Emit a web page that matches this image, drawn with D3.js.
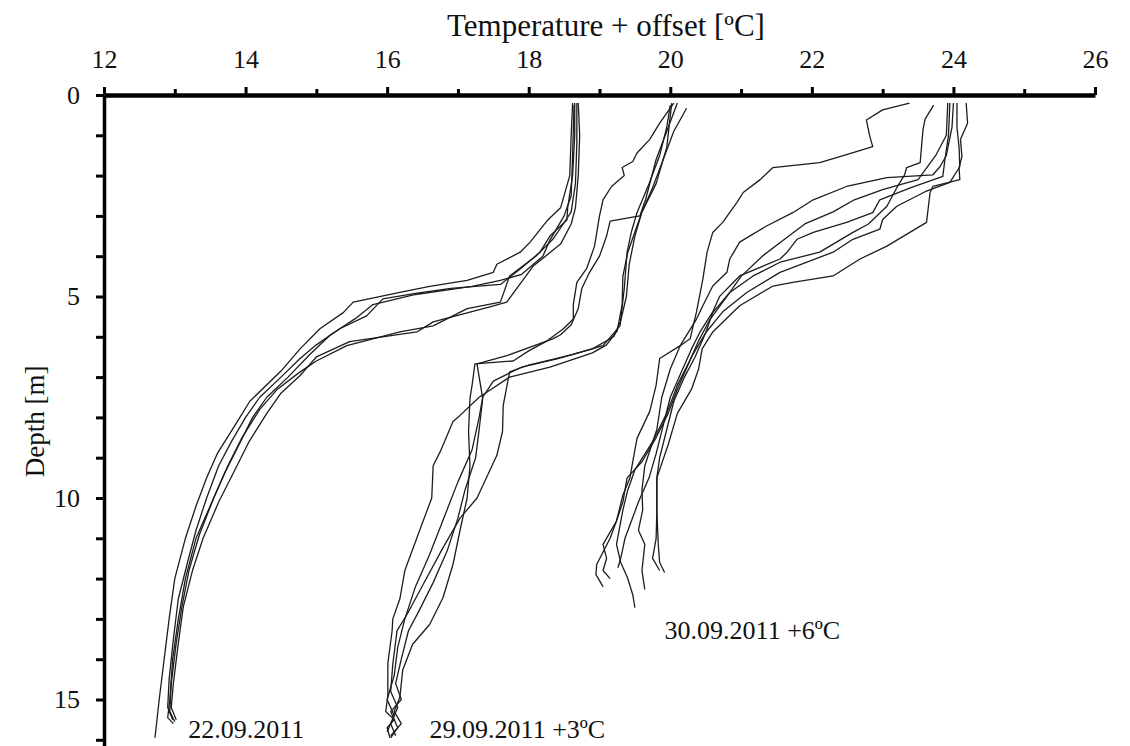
<!DOCTYPE html>
<html lang="en">
<head>
<meta charset="utf-8">
<title>Temperature profiles</title>
<script src="https://cdn.jsdelivr.net/npm/d3@7"></script>
<style>
  body { margin: 0; background: white; }
  svg text { font-family: "Liberation Serif", "Times New Roman", serif; fill: #111; }
  .axis path, .axis line { stroke: #000; }
  .profile { fill: none; stroke: #1c1c1c; stroke-width: 1.3; stroke-linejoin: round; }
</style>
</head>
<body>
<script>
// axis ticks
var tempTicks = d3.range(12, 27, 1);
var depthTicks = d3.range(0, 17, 1);
var dateLabels = ["22.09.2011", "29.09.2011 +3ºC", "30.09.2011 +6ºC"];

// profiles: [temperature + offset, depth]
var profiles22 = [
  [[18.62,0.2],[18.6,1.0],[18.58,2.0],[18.45,2.8],[18.27,3.1],[18.02,3.65],[17.88,3.9],[17.55,4.2],[17.5,4.4],[17.13,4.6],[16.6,4.75],[16.18,4.9],[15.52,5.14],[15.38,5.4],[15.05,5.8],[14.77,6.3],[14.5,6.85],[14.06,7.6],[13.85,8.2],[13.6,8.9],[13.45,9.5],[13.3,10.2],[13.15,11.0],[13.0,12.0],[12.92,13.0],[12.85,14.0],[12.78,15.0],[12.72,15.95]],
  [[18.65,0.2],[18.65,1.0],[18.62,2.0],[18.55,2.8],[18.54,3.1],[18.3,3.5],[18.16,3.9],[17.88,4.32],[17.6,4.7],[16.9,4.8],[16.4,4.92],[15.94,5.06],[15.71,5.48],[15.33,5.8],[15.0,6.2],[14.77,6.54],[14.5,7.0],[14.2,7.5],[14.0,8.0],[13.8,8.6],[13.62,9.2],[13.45,10.0],[13.3,10.8],[13.18,11.6],[13.05,12.5],[12.98,13.5],[12.92,14.5],[12.9,15.2],[12.97,15.5]],
  [[18.68,0.2],[18.68,1.2],[18.66,2.2],[18.6,2.9],[18.45,3.3],[18.34,3.58],[18.1,4.0],[17.73,4.49],[17.6,5.14],[17.13,5.3],[16.65,5.73],[16.18,5.88],[15.43,6.22],[15.0,6.6],[14.77,6.87],[14.45,7.3],[14.2,7.8],[13.95,8.5],[13.75,9.2],[13.55,10.0],[13.35,10.9],[13.2,11.8],[13.1,12.7],[13.02,13.6],[12.95,14.6],[12.93,15.3],[13.0,15.55]],
  [[18.7,0.2],[18.72,1.0],[18.7,2.0],[18.66,2.8],[18.6,3.2],[18.45,3.7],[18.06,4.25],[17.69,5.14],[17.45,5.26],[16.65,5.63],[16.42,5.88],[15.47,6.12],[15.0,6.5],[14.77,6.96],[14.5,7.4],[14.3,7.9],[14.05,8.6],[13.85,9.3],[13.62,10.1],[13.4,11.0],[13.25,11.8],[13.12,12.7],[13.05,13.6],[12.98,14.6],[12.95,15.2],[13.02,15.5]],
  [[18.64,0.25],[18.62,1.5],[18.6,2.5],[18.5,3.0],[18.3,3.6],[18.2,4.0],[17.9,4.45],[17.6,4.6],[17.2,4.75],[16.4,4.95],[15.8,5.2],[15.55,5.55],[15.2,5.95],[14.9,6.45],[14.6,7.0],[14.3,7.5],[14.1,8.0],[13.9,8.7],[13.7,9.4],[13.5,10.2],[13.3,11.0],[13.15,12.0],[13.05,13.0],[12.97,14.0],[12.93,15.0],[12.9,15.45],[12.98,15.6]]
];

var profiles29 = [
  [[20.02,0.2],[19.95,1.3],[19.8,2.2],[19.6,2.9],[19.5,3.4],[19.4,3.9],[19.33,4.5],[19.32,5.2],[19.25,5.85],[19.1,6.2],[18.9,6.4],[18.3,6.75],[17.73,7.0],[17.3,7.5],[17.03,7.95],[16.93,8.1],[16.75,8.85],[16.65,9.2],[16.63,10.0],[16.46,10.8],[16.25,11.8],[16.18,12.5],[16.08,13.0],[16.07,13.3],[16.01,14.1],[16.01,14.9],[15.98,15.3],[16.1,15.5],[16.0,15.7],[16.04,15.95]],
  [[20.05,0.2],[19.85,0.7],[19.71,1.1],[19.53,1.44],[19.47,1.65],[19.32,1.8],[19.35,2.0],[19.17,2.27],[19.05,2.6],[19.0,3.0],[18.93,3.75],[18.82,4.3],[18.68,4.65],[18.63,5.2],[18.63,5.56],[18.49,5.8],[18.26,6.1],[18.0,6.35],[17.78,6.6],[17.24,6.67],[17.2,7.2],[17.17,7.53],[17.15,8.35],[17.17,9.2],[17.13,10.0],[17.03,10.8],[16.93,11.65],[16.79,12.47],[16.6,13.14],[16.36,13.63],[16.22,14.27],[16.18,14.94],[16.1,15.3],[16.2,15.6],[16.05,15.9]],
  [[20.1,0.2],[19.95,0.9],[19.8,1.6],[19.65,2.6],[19.57,3.0],[19.15,3.13],[19.1,3.5],[19.0,4.0],[18.86,4.4],[18.75,4.8],[18.7,5.3],[18.6,5.7],[18.45,5.95],[18.34,6.05],[17.69,6.47],[17.27,6.67],[17.3,7.0],[17.35,7.53],[17.3,8.3],[17.25,9.0],[17.1,9.8],[17.0,10.5],[16.85,11.3],[16.65,12.1],[16.45,12.8],[16.3,13.3],[16.2,14.0],[16.12,14.6],[16.2,15.0],[16.05,15.3],[16.15,15.7],[16.05,15.95]],
  [[20.0,0.25],[19.95,0.8],[19.85,1.5],[19.7,2.2],[19.53,2.92],[19.45,3.4],[19.39,3.9],[19.35,4.8],[19.29,5.73],[19.05,6.22],[18.6,6.45],[18.0,6.7],[17.73,6.87],[17.64,7.7],[17.63,8.35],[17.55,8.94],[17.27,10.0],[17.03,10.5],[16.79,11.23],[16.51,12.14],[16.28,12.89],[16.14,13.29],[16.08,14.12],[16.05,14.8],[16.15,15.2],[16.05,15.6],[16.12,15.9]],
  [[20.23,0.33],[20.05,0.9],[19.9,1.6],[19.75,2.3],[19.6,2.9],[19.5,3.5],[19.42,4.2],[19.38,5.0],[19.3,5.6],[19.2,6.0],[18.9,6.3],[18.4,6.55],[17.9,6.75],[17.5,7.1],[17.35,7.5],[17.3,8.0],[17.2,8.8],[17.0,9.6],[16.8,10.5],[16.6,11.4],[16.4,12.2],[16.25,13.0],[16.15,13.7],[16.1,14.4],[16.0,15.0],[16.1,15.4],[16.0,15.8]]
];

var profiles30 = [
  [[23.38,0.2],[23.0,0.37],[22.77,0.62],[22.82,1.04],[22.86,1.28],[22.49,1.48],[22.11,1.68],[21.45,1.8],[21.27,2.1],[21.03,2.42],[20.94,2.67],[20.74,3.16],[20.6,3.41],[20.52,3.9],[20.46,4.57],[20.37,5.38],[20.28,6.05],[20.14,6.22],[19.85,6.54],[19.8,7.2],[19.71,7.85],[19.53,8.52],[19.47,9.1],[19.43,9.5],[19.33,9.93],[19.24,10.57],[19.15,11.0],[18.96,11.65],[18.95,11.9],[19.05,12.2]],
  [[24.0,0.2],[23.98,0.8],[23.9,1.5],[23.81,1.78],[23.71,1.98],[23.06,2.05],[22.49,2.27],[22.02,2.6],[21.73,2.92],[21.36,3.25],[20.98,3.65],[20.84,4.07],[20.8,4.4],[20.6,4.74],[20.46,5.23],[20.37,5.56],[20.14,6.22],[20.0,6.8],[19.88,7.5],[19.81,8.3],[19.64,9.2],[19.6,9.8],[19.61,10.3],[19.55,10.8],[19.64,11.15],[19.6,11.8],[19.64,12.27]],
  [[23.95,0.2],[23.93,1.0],[23.88,1.6],[23.85,2.02],[23.4,2.3],[22.96,2.6],[22.86,2.92],[22.49,3.16],[22.02,3.41],[21.79,3.58],[21.65,3.9],[21.55,4.07],[20.98,4.49],[20.7,4.99],[20.6,5.38],[20.42,5.88],[20.3,6.3],[20.15,6.9],[20.0,7.5],[19.9,8.2],[19.8,8.9],[19.7,9.5],[19.55,10.1],[19.36,11.0],[19.3,11.5],[19.26,11.73]],
  [[23.72,0.25],[23.6,0.6],[23.57,0.86],[23.53,1.68],[23.34,1.8],[23.31,1.98],[23.2,2.3],[23.06,2.76],[22.8,3.2],[22.58,3.41],[22.11,3.9],[21.55,4.15],[21.17,4.49],[20.84,4.9],[20.6,5.4],[20.5,5.9],[20.35,6.5],[20.2,7.0],[20.05,7.6],[19.95,8.3],[19.85,9.0],[19.81,9.5],[19.81,10.3],[19.83,11.15],[19.85,11.6],[19.92,11.85]],
  [[24.05,0.2],[24.05,0.8],[24.08,1.3],[24.09,1.78],[23.95,2.17],[23.6,2.4],[23.2,2.76],[23.0,3.09],[22.96,3.33],[22.58,3.58],[22.3,3.9],[21.55,4.4],[21.08,4.9],[20.74,5.38],[20.5,5.9],[20.3,6.5],[20.1,7.2],[19.95,7.9],[19.75,8.6],[19.5,9.3],[19.4,9.8],[19.33,10.3],[19.24,11.15],[19.3,11.6],[19.4,12.0],[19.47,12.4],[19.5,12.72]],
  [[24.18,0.2],[24.2,0.7],[24.1,1.1],[24.12,1.53],[24.08,1.8],[24.09,2.1],[23.71,2.27],[23.67,2.42],[23.62,3.16],[23.06,3.75],[22.68,4.07],[22.3,4.49],[21.73,4.65],[21.45,4.74],[20.98,5.23],[20.6,5.88],[20.45,6.3],[20.4,6.8],[20.3,7.3],[20.1,7.9],[19.97,8.68],[19.81,9.5],[19.81,10.3],[19.8,11.0],[19.75,11.5],[19.85,11.8]],
  [[23.92,0.2],[23.9,1.0],[23.75,1.5],[23.5,2.1],[23.0,2.35],[22.6,2.6],[22.3,2.9],[21.9,3.2],[21.6,3.6],[21.3,4.0],[21.0,4.5],[20.8,5.0],[20.55,5.6],[20.4,6.1],[20.25,6.7],[20.1,7.3],[19.97,7.9],[19.8,8.5],[19.6,9.1],[19.39,9.5],[19.33,10.1],[19.24,10.57],[19.05,11.15],[19.1,11.5],[19.05,11.8],[19.15,12.0]]
];

// where each date label starts (temperature, depth of baseline)
var labelAnchors = [[13.19,15.96],[16.6,15.96],[19.92,13.5]];

var width = 1130, height = 746;

var svg = d3.select("body").append("svg")
    .attr("width", width)
    .attr("height", height);

var x = d3.scaleLinear().domain([12, 26]).range([104, 1095]);
var y = d3.scaleLinear().domain([0, 16.2]).range([95, 95 + 16.2 * 40.3]);

var line = d3.line()
    .x(function(d) { return x(d[0]); })
    .y(function(d) { return y(d[1]); });

// profiles
var all = profiles22.concat(profiles29, profiles30);
svg.append("g").selectAll("path")
    .data(all)
    .enter().append("path")
    .attr("class", "profile")
    .attr("d", line);

// x axis on top
var xAxis = d3.axisTop(x)
    .tickValues(tempTicks)
    .tickSizeInner(7)
    .tickSizeOuter(0)
    .tickPadding(20)
    .tickFormat(function(d) { return d % 2 === 0 ? d : ""; });

var gx = svg.append("g")
    .attr("class", "axis")
    .attr("transform", "translate(0," + y(0) + ")")
    .call(xAxis)
    .attr("font-family", null)
    .attr("font-size", null);
gx.select(".domain").attr("stroke-width", 4.5);
gx.selectAll(".tick line")
    .attr("stroke-width", 3)
    .attr("y2", function(d) { return d % 2 === 0 ? -8 : -6; });
gx.selectAll(".tick text")
    .attr("font-size", "26px")
    .attr("fill", "#111");

// y axis
var yAxis = d3.axisLeft(y)
    .tickValues(depthTicks)
    .tickSizeInner(8)
    .tickSizeOuter(0)
    .tickPadding(16)
    .tickFormat(function(d) { return d % 5 === 0 ? d : ""; });

var gy = svg.append("g")
    .attr("class", "axis")
    .attr("transform", "translate(" + x(12) + ",0)")
    .call(yAxis)
    .attr("font-family", null)
    .attr("font-size", null);
gy.select(".domain").attr("stroke-width", 3.5);
gy.selectAll(".tick line").attr("stroke-width", 3);
gy.selectAll(".tick text")
    .attr("font-size", "26px")
    .attr("fill", "#111");

// titles
svg.append("text")
    .attr("x", 606)
    .attr("y", 36)
    .attr("text-anchor", "middle")
    .attr("font-size", "31px")
    .text("Temperature + offset [ºC]");

svg.append("text")
    .attr("transform", "translate(44," + ((y.range()[0] + y.range()[1]) / 2) + ") rotate(-90)")
    .attr("text-anchor", "middle")
    .attr("font-size", "27px")
    .text("Depth [m]");

// date labels
svg.append("g").selectAll("text")
    .data(dateLabels)
    .enter().append("text")
    .attr("x", function(d, i) { return x(labelAnchors[i][0]); })
    .attr("y", function(d, i) { return y(labelAnchors[i][1]); })
    .attr("font-size", "26px")
    .text(function(d) { return d; });
</script>
</body>
</html>
